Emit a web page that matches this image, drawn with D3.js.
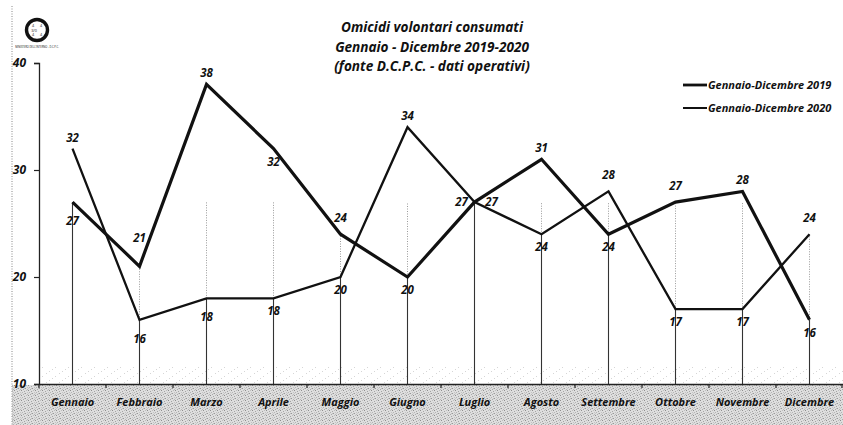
<!DOCTYPE html>
<html>
<head>
<meta charset="utf-8">
<script src="https://cdn.jsdelivr.net/npm/d3@7"></script>
<style>
  html, body { margin: 0; padding: 0; background: #ffffff; overflow: hidden; }
  svg { display: block; }
  text { font-family: "Open Sans", "Noto Sans", sans-serif; fill: #111; }
</style>
</head>
<body>
<div id="chart"></div>
<script>
// ---------- data ----------
const months = ["Gennaio", "Febbraio", "Marzo", "Aprile", "Maggio", "Giugno",
                "Luglio", "Agosto", "Settembre", "Ottobre", "Novembre", "Dicembre"];
const values2019 = [27, 21, 38, 32, 24, 20, 27, 31, 24, 27, 28, 16];
const values2020 = [32, 16, 18, 18, 20, 34, 27, 24, 28, 17, 17, 24];
const seriesNames = ["Gennaio-Dicembre 2019", "Gennaio-Dicembre 2020"];
const yTicks = [10, 20, 30, 40];
const titleLines = ["Omicidi volontari consumati",
                    "Gennaio - Dicembre 2019-2020",
                    "(fonte D.C.P.C. - dati operativi)"];
// label placement codes (style only)
const place2019 = ["B", "AA", "a", "b", "A", "b", "l", "a", "b", "A", "a", "b"];
const place2020 = ["a", "B", "B", "b", "b", "a", "r", "b", "A", "b", "b", "A"];
const guideLevel = 27;

// ---------- layout ----------
const W = 843, H = 425;
const svg = d3.select("#chart").append("svg").attr("width", W).attr("height", H);
const defs = svg.append("defs");

// halftone pattern imitating the scanned grey band
const pat = defs.append("pattern").attr("id", "halftone").attr("patternUnits", "userSpaceOnUse")
  .attr("width", 7).attr("height", 5);
pat.append("rect").attr("width", 7).attr("height", 5).attr("fill", "#dedede");
[[0,0,"#8e8e8e"],[3,1,"#a4a4a4"],[5,0,"#bdbdbd"],[1,2,"#b3b3b3"],[4,3,"#979797"],
 [6,2,"#c4c4c4"],[2,4,"#a9a9a9"],[6,4,"#b8b8b8"],[0,3,"#cacaca"],[3,3,"#c0c0c0"]].forEach(p => {
  pat.append("rect").attr("x", p[0]).attr("y", p[1]).attr("width", 1).attr("height", 1).attr("fill", p[2]);
});
const patL = defs.append("pattern").attr("id", "halftoneLight").attr("patternUnits", "userSpaceOnUse")
  .attr("width", 13).attr("height", 9);
[[0,0],[7,4],[3,7],[10,2]].forEach(p => {
  patL.append("rect").attr("x", p[0]).attr("y", p[1]).attr("width", 1).attr("height", 1).attr("fill", "#d6d6d6");
});

const pLeft = 39, pRight = 843, pTop = 63, pBottom = 384;
const x = d3.scaleBand().domain(months).range([pLeft, pRight]).paddingInner(0).paddingOuter(0);
const y = d3.scaleLinear().domain([10, 40]).range([pBottom, pTop]);
const cx = m => x(m) + x.bandwidth() / 2;

// bottom scanned band
svg.append("rect").attr("x", 12).attr("y", pBottom + 1).attr("width", W - 12).attr("height", H - pBottom)
  .attr("fill", "url(#halftone)");
svg.append("rect").attr("x", 40).attr("y", 366).attr("width", W - 40).attr("height", pBottom - 366)
  .attr("fill", "url(#halftoneLight)");

// left dotted scan border
svg.append("line").attr("x1", 12).attr("x2", 12).attr("y1", 6).attr("y2", H)
  .attr("stroke", "#888").attr("stroke-width", 1).attr("stroke-dasharray", "1,1.5");

// logo
const logo = svg.append("g").attr("transform", "translate(37,30)");
logo.append("circle").attr("r", 10.5).attr("fill", "#fff").attr("stroke", "#111").attr("stroke-width", 3.4);
[["4", -4, -3], ["4", 4, -3], ["3/0", -3, 1.5], ["4", -4, 6], ["4", 4, 6]].forEach(d => {
  logo.append("text").attr("x", d[1]).attr("y", d[2]).attr("font-size", 3.8)
    .attr("text-anchor", "middle").text(d[0]);
});
svg.append("text").attr("x", 37).attr("y", 48).attr("font-size", 2.6).attr("text-anchor", "middle")
  .attr("fill", "#333").text("MINISTERO DELL'INTERNO - D.C.P.C.");

// title
svg.append("g").selectAll("text").data(titleLines).join("text")
  .attr("x", 432).attr("y", (d, i) => 32 + i * 19.5)
  .attr("text-anchor", "middle").attr("font-size", 13.6).attr("font-style", "italic")
  .attr("font-weight", 700).text(d => d);

// drop lines
const drops = svg.append("g");
months.forEach((m, i) => {
  const lo = Math.min(values2019[i], values2020[i]);
  const hi = Math.max(values2019[i], values2020[i]);
  const guideTop = Math.max(lo, Math.min(hi, guideLevel));
  drops.append("line").attr("x1", cx(m)).attr("x2", cx(m)).attr("y1", y(10)).attr("y2", y(lo))
    .attr("stroke", "#333").attr("stroke-width", 1.1);
  drops.append("line").attr("x1", cx(m)).attr("x2", cx(m)).attr("y1", y(lo)).attr("y2", y(guideTop))
    .attr("stroke", "#9a9a9a").attr("stroke-width", 1).attr("stroke-dasharray", "1,1.5");
});

// axes
const yAxis = svg.append("g").attr("transform", `translate(${pLeft},0)`)
  .call(d3.axisLeft(y).tickValues(yTicks).tickSize(5).tickFormat(d3.format("d")));
yAxis.select(".domain").attr("stroke", "#222").attr("stroke-width", 1.3);
yAxis.selectAll(".tick line").attr("stroke", "#222").attr("stroke-width", 1.2);
yAxis.selectAll(".tick text").attr("x", -13).attr("dy", "0.32em")
  .attr("font-size", 12).attr("font-style", "italic").attr("font-weight", 700)
  .attr("font-family", "'Open Sans', sans-serif").attr("fill", "#111");

const xAxis = svg.append("g").attr("transform", `translate(0,${pBottom})`)
  .call(d3.axisBottom(x).tickSize(0).tickPadding(0));
xAxis.select(".domain").attr("stroke", "#222").attr("stroke-width", 1.6);
xAxis.selectAll(".tick text").attr("y", 22).attr("dy", 0)
  .attr("font-size", 11).attr("font-style", "italic").attr("font-weight", 700)
  .attr("font-family", "'Open Sans', sans-serif").attr("fill", "#111");
// boundary tick marks
const bounds = months.map(m => x(m)).concat([pRight - 1]);
xAxis.append("g").selectAll("line").data(bounds).join("line")
  .attr("x1", d => d).attr("x2", d => d).attr("y1", 0).attr("y2", 4)
  .attr("stroke", "#222").attr("stroke-width", 1.2);

// lines
const line = d3.line().x((d, i) => cx(months[i])).y(d => y(d));
svg.append("path").datum(values2020).attr("d", line)
  .attr("fill", "none").attr("stroke", "#111").attr("stroke-width", 2.3).attr("stroke-linejoin", "miter");
svg.append("path").datum(values2019).attr("d", line)
  .attr("fill", "none").attr("stroke", "#111").attr("stroke-width", 3.2).attr("stroke-linejoin", "miter");

// data labels
const off = { a: [0, -11], A: [0, -16], AA: [0, -28], b: [0, 13], B: [0, 19], l: [-13, 0], r: [17, 0] };
function labels(vals, places) {
  svg.append("g").selectAll("text").data(vals).join("text")
    .attr("x", (d, i) => cx(months[i]) + off[places[i]][0])
    .attr("y", (d, i) => y(d) + off[places[i]][1])
    .attr("dy", "0.35em").attr("text-anchor", "middle")
    .attr("font-size", 11.5).attr("font-style", "italic").attr("font-weight", 700)
    .text(d => d);
}
labels(values2019, place2019);
labels(values2020, place2020);

// legend
const lg = svg.append("g");
seriesNames.forEach((n, i) => {
  const ly = 85 + i * 23;
  lg.append("line").attr("x1", 683).attr("x2", 707).attr("y1", ly).attr("y2", ly)
    .attr("stroke", "#111").attr("stroke-width", i === 0 ? 2.8 : 2);
  lg.append("text").attr("x", 708).attr("y", ly).attr("dy", "0.35em")
    .attr("font-size", 11).attr("font-style", "italic").attr("font-weight", 700).text(n);
});
</script>
</body>
</html>
